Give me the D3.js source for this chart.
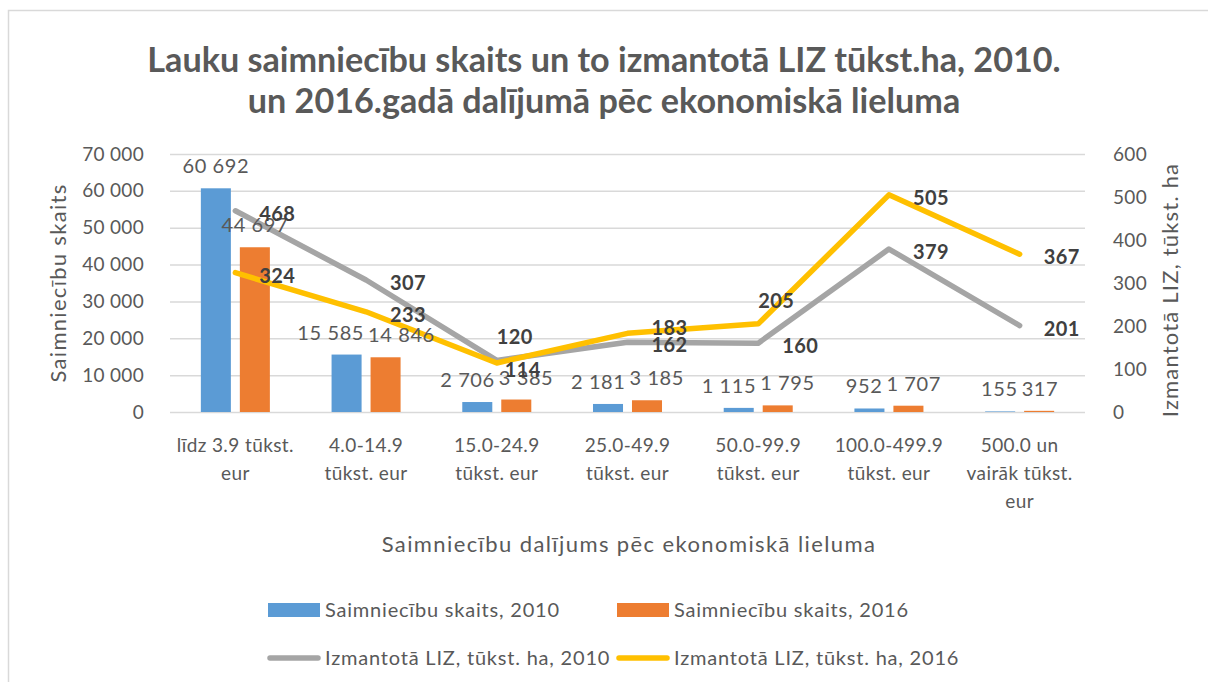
<!DOCTYPE html>
<html>
<head>
<meta charset="utf-8">
<script src="https://cdn.jsdelivr.net/npm/d3@7"></script>
<style>
  body { margin: 0; background: #fff; }
  text { font-family: Lato, "Open Sans", sans-serif; fill: #595959; }
</style>
</head>
<body>
<div id="chart_div"></div>
<script>
const categories = [
  "līdz 3.9 tūkst.\neur",
  "4.0-14.9\ntūkst. eur",
  "15.0-24.9\ntūkst. eur",
  "25.0-49.9\ntūkst. eur",
  "50.0-99.9\ntūkst. eur",
  "100.0-499.9\ntūkst. eur",
  "500.0 un\nvairāk tūkst.\neur"
];
const farms2010 = [60692, 15585, 2706, 2181, 1115, 952, 155];
const farms2016 = [44697, 14846, 3385, 3185, 1795, 1707, 317];
const land2010 = [468, 307, 120, 162, 160, 379, 201];
const land2016 = [324, 233, 114, 183, 205, 505, 367];
const leftTicks = [0, 10000, 20000, 30000, 40000, 50000, 60000, 70000];
const rightTicks = [0, 100, 200, 300, 400, 500, 600];

// where the bold line labels sit: r = right, u = right and a bit up, t = above, b = below-right
const labelPos2010 = ["r", "r", "t", "r", "r", "r", "r"];
const labelPos2016 = ["r", "r", "b", "u", "t", "r", "r"];

const width = 1208,
  height = 682;
const plotLeft = 170,
  plotRight = 1085,
  plotTop = 154,
  plotBottom = 412;

const svg = d3
  .select("#chart_div")
  .append("svg")
  .attr("width", width)
  .attr("height", height);

// chart border (only left and top visible in the frame)
svg
  .append("rect")
  .attr("x", 8.5)
  .attr("y", 10.5)
  .attr("width", 1230)
  .attr("height", 700)
  .attr("fill", "none")
  .attr("stroke", "#d9d9d9")
  .attr("stroke-width", 1.5);

const fmt = (v) => d3.format(",")(v).replace(/,/g, " ");

const x = d3.scaleBand().domain(categories).range([plotLeft, plotRight]);
const xSub = d3
  .scaleBand()
  .domain(["2010", "2016"])
  .range([x.bandwidth() * 0.236, x.bandwidth() * 0.764])
  .paddingInner(0.23);
const yL = d3.scaleLinear().domain([0, 70000]).range([plotBottom, plotTop]);
const yR = d3.scaleLinear().domain([0, 600]).range([plotBottom, plotTop]);

// title
const title = svg
  .append("text")
  .attr("text-anchor", "middle")
  .style("font-size", "30px")
  .style("font-weight", "bold");
const t1 = title
  .append("tspan")
  .attr("x", width / 2)
  .attr("y", 72)
  .text("Lauku saimniecību skaits un to izmantotā LIZ tūkst.ha, 2010.");
title
  .append("tspan")
  .attr("x", width / 2)
  .attr("y", 113)
  .text("un 2016.gadā dalījumā pēc ekonomiskā lieluma");
// fit the first title line to the width it has in the source (~914px)
const t1len = t1.node().getComputedTextLength();
title.style("font-size", (30 * 914) / t1len + "px");

// gridlines
svg
  .append("g")
  .selectAll("line")
  .data(leftTicks)
  .enter()
  .append("line")
  .attr("x1", plotLeft)
  .attr("x2", plotRight)
  .attr("y1", (d) => yL(d) + 0.5)
  .attr("y2", (d) => yL(d) + 0.5)
  .attr("stroke", "#d9d9d9")
  .attr("stroke-width", 1.5);

// left axis
const axisL = svg
  .append("g")
  .attr("transform", `translate(${plotLeft - 23},0)`)
  .call(d3.axisLeft(yL).tickValues(leftTicks).tickFormat(fmt).tickSize(0));
axisL.select(".domain").remove();
axisL
  .selectAll("text")
  .style("font-size", "19px")
  .style("letter-spacing", "0.3px")
  .attr("font-family", null);

// right axis
const axisR = svg
  .append("g")
  .attr("transform", `translate(${plotRight + 25},0)`)
  .call(d3.axisRight(yR).tickValues(rightTicks).tickSize(0));
axisR.select(".domain").remove();
axisR
  .selectAll("text")
  .style("font-size", "19px")
  .style("letter-spacing", "0.3px")
  .attr("font-family", null);

// category labels
const catG = svg
  .append("g")
  .selectAll("text")
  .data(categories)
  .enter()
  .append("text")
  .attr("text-anchor", "middle")
  .style("font-size", "19px")
  .style("letter-spacing", "0.4px");
catG
  .selectAll("tspan")
  .data((d) => d.split("\n").map((t) => ({ t: t, c: d })))
  .enter()
  .append("tspan")
  .attr("x", (d) => x(d.c) + x.bandwidth() / 2)
  .attr("y", (d, i) => 452 + i * 28)
  .text((d) => d.t);

// axis titles
svg
  .append("text")
  .attr("text-anchor", "middle")
  .attr("transform", "translate(66,283) rotate(-90)")
  .style("font-size", "22px")
  .style("letter-spacing", "1.3px")
  .text("Saimniecību skaits");
svg
  .append("text")
  .attr("text-anchor", "middle")
  .attr("transform", "translate(1178,290) rotate(-90)")
  .style("font-size", "22px")
  .style("letter-spacing", "1.2px")
  .text("Izmantotā LIZ, tūkst. ha");
svg
  .append("text")
  .attr("text-anchor", "middle")
  .attr("x", 629)
  .attr("y", 552)
  .style("font-size", "22px")
  .style("letter-spacing", "1.4px")
  .text("Saimniecību dalījums pēc ekonomiskā lieluma");

// bars
const barSeries = [
  { key: "2010", values: farms2010, color: "#5b9bd5" },
  { key: "2016", values: farms2016, color: "#ed7d31" }
];
barSeries.forEach((s) => {
  const g = svg.append("g");
  g.selectAll("rect")
    .data(s.values)
    .enter()
    .append("rect")
    .attr("x", (d, i) => x(categories[i]) + xSub(s.key))
    .attr("width", xSub.bandwidth())
    .attr("y", (d) => yL(d))
    .attr("height", (d) => yL(0) - yL(d))
    .attr("fill", s.color);
});

// lines
const lineSeries = [
  { values: land2010, color: "#a5a5a5", pos: labelPos2010 },
  { values: land2016, color: "#ffc000", pos: labelPos2016 }
];
const line = d3
  .line()
  .x((d, i) => x(categories[i]) + x.bandwidth() / 2)
  .y((d) => yR(d));
lineSeries.forEach((s) => {
  svg
    .append("path")
    .datum(s.values)
    .attr("d", line)
    .attr("fill", "none")
    .attr("stroke", s.color)
    .attr("stroke-width", 5.5)
    .attr("stroke-linejoin", "round")
    .attr("stroke-linecap", "round");
});

// bar value labels, pushed apart sideways when a pair would collide
const barLabels = barSeries.map((s) =>
  svg
    .append("g")
    .selectAll("text")
    .data(s.values)
    .enter()
    .append("text")
    .attr("text-anchor", "middle")
    .attr("x", (d, i) => x(categories[i]) + xSub(s.key) + xSub.bandwidth() / 2)
    .attr("y", (d) => yL(d) - 22)
    .attr("dy", "0.35em")
    .style("font-size", "20px")
    .style("letter-spacing", "0.6px")
    .text(fmt)
);
categories.forEach((c, i) => {
  const a = barLabels[0].nodes()[i],
    b = barLabels[1].nodes()[i];
  const ax = +a.getAttribute("x"),
    bx = +b.getAttribute("x");
  const need = (a.getComputedTextLength() + b.getComputedTextLength()) / 2 + 4;
  const dyGap = Math.abs(+a.getAttribute("y") - +b.getAttribute("y"));
  if (dyGap < 20 && bx - ax < need) {
    const push = (need - (bx - ax)) / 2;
    a.setAttribute("x", ax - push);
    b.setAttribute("x", bx + push);
  }
});

// line value labels
lineSeries.forEach((s) => {
  svg
    .append("g")
    .selectAll("text")
    .data(s.values)
    .enter()
    .append("text")
    .attr("text-anchor", "middle")
    .attr("x", (d, i) => {
      const cx = x(categories[i]) + x.bandwidth() / 2;
      if (s.pos[i] === "t") return cx + 18;
      if (s.pos[i] === "b") return cx + 26;
      return cx + 42;
    })
    .attr("y", (d, i) => {
      if (s.pos[i] === "t") return yR(d) - 23;
      if (s.pos[i] === "b") return yR(d) + 7;
      if (s.pos[i] === "u") return yR(d) - 5;
      return yR(d) + 3;
    })
    .attr("dy", "0.35em")
    .style("font-size", "20px")
    .style("font-weight", "bold")
    .style("letter-spacing", "0.4px")
    .style("fill", "#404040")
    .text((d) => d);
});

// legend
const legend = svg
  .append("g")
  .style("font-size", "20px")
  .style("letter-spacing", "0.8px");
const legendItems = [
  { label: "Saimniecību skaits, 2010", color: "#5b9bd5", type: "rect", x: 268, y: 610 },
  { label: "Saimniecību skaits, 2016", color: "#ed7d31", type: "rect", x: 617, y: 610 },
  { label: "Izmantotā LIZ, tūkst. ha, 2010", color: "#a5a5a5", type: "line", x: 268, y: 658 },
  { label: "Izmantotā LIZ, tūkst. ha, 2016", color: "#ffc000", type: "line", x: 617, y: 658 }
];
legendItems.forEach((it) => {
  if (it.type === "rect") {
    legend
      .append("rect")
      .attr("x", it.x)
      .attr("y", it.y - 7)
      .attr("width", 52)
      .attr("height", 14)
      .attr("fill", it.color);
  } else {
    legend
      .append("line")
      .attr("x1", it.x + 2)
      .attr("x2", it.x + 50)
      .attr("y1", it.y)
      .attr("y2", it.y)
      .attr("stroke", it.color)
      .attr("stroke-width", 5.5)
      .attr("stroke-linecap", "round");
  }
  legend
    .append("text")
    .attr("x", it.x + 57)
    .attr("y", it.y)
    .attr("dy", "0.35em")
    .text(it.label);
});
</script>
</body>
</html>
